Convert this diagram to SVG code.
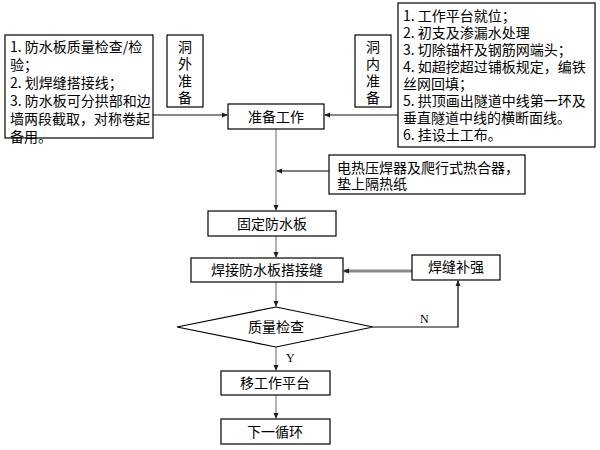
<svg xmlns="http://www.w3.org/2000/svg" width="600" height="450" viewBox="0 0 600 450">
<defs>
<marker id="ah" markerWidth="6" markerHeight="6" refX="5" refY="3" orient="auto" markerUnits="userSpaceOnUse">
<path d="M0,0.5 L6,3 L0,5.5 Z" fill="#222"/>
</marker>
<style>
.box{fill:#fff;stroke:#000;stroke-width:1.2}
.t{font-family:"Noto Sans CJK SC","Noto Sans CJK JP",sans-serif;font-size:14px;fill:#000}
.c{text-anchor:middle}
.flow{stroke:#808080;stroke-width:1.2;fill:none}
.thick{stroke:#888;stroke-width:2;fill:none}
.blk{stroke:#000;stroke-width:1.2;fill:none}
.yn{font-family:"Liberation Serif",serif;font-size:12px;fill:#000}
</style>
</defs>
<rect width="600" height="450" fill="#fff"/>
<g id="connectors">
<line class="thick" x1="153" y1="115" x2="227" y2="115" marker-end="url(#ah)"/>
<line class="thick" x1="398" y1="115" x2="325" y2="115" marker-end="url(#ah)"/>
<line class="flow" x1="276" y1="129" x2="276" y2="210" marker-end="url(#ah)"/>
<line class="blk" x1="329" y1="171" x2="277" y2="171" marker-end="url(#ah)"/>
<line class="flow" x1="276" y1="236" x2="276" y2="257" marker-end="url(#ah)"/>
<line class="flow" x1="276" y1="282" x2="276" y2="306" marker-end="url(#ah)"/>
<line style="stroke:#888;stroke-width:3;fill:none" x1="412" y1="271" x2="344" y2="271" marker-end="url(#ah)"/>
<polyline class="blk" points="373,327 458,327 458,281" marker-end="url(#ah)"/>
<text class="yn" x="420" y="323">N</text>
<line class="flow" x1="276" y1="347" x2="276" y2="370" marker-end="url(#ah)"/>
<text class="yn" x="286" y="362">Y</text>
<line class="flow" x1="276" y1="395" x2="276" y2="418" marker-end="url(#ah)"/>
</g>
<g id="outside-list">
<rect class="box" x="5" y="35" width="148" height="103"/>
<text class="t" x="10" y="52"><tspan x="10" y="52">1. 防水板质量检查/检</tspan><tspan x="10" y="70">验；</tspan><tspan x="10" y="88">2. 划焊缝搭接线；</tspan><tspan x="10" y="106">3. 防水板可分拱部和边</tspan><tspan x="10" y="124">墙两段截取，对称卷起</tspan><tspan x="10" y="142">备用。</tspan></text>
</g>
<g id="outside-prep">
<rect class="box" x="167" y="35" width="36" height="72"/>
<text class="t c" x="185" y="52"><tspan x="185" y="52">洞</tspan><tspan x="185" y="69">外</tspan><tspan x="185" y="86">准</tspan><tspan x="185" y="103">备</tspan></text>
</g>
<g id="inside-prep">
<rect class="box" x="355" y="35" width="36" height="72"/>
<text class="t c" x="373" y="52"><tspan x="373" y="52">洞</tspan><tspan x="373" y="69">内</tspan><tspan x="373" y="86">准</tspan><tspan x="373" y="103">备</tspan></text>
</g>
<g id="inside-list">
<rect class="box" x="398" y="3" width="197" height="144"/>
<text class="t" x="403" y="21"><tspan x="403" y="21">1. 工作平台就位；</tspan><tspan x="403" y="38">2. 初支及渗漏水处理</tspan><tspan x="403" y="55">3. 切除锚杆及钢筋网端头；</tspan><tspan x="403" y="72">4. 如超挖超过铺板规定，编铁</tspan><tspan x="403" y="89">丝网回填；</tspan><tspan x="403" y="106">5. 拱顶画出隧道中线第一环及</tspan><tspan x="403" y="123">垂直隧道中线的横断面线。</tspan><tspan x="403" y="140">6. 挂设土工布。</tspan></text>
</g>
<g id="prep-work">
<rect class="box" x="228" y="104" width="96" height="25"/>
<text class="t c" x="276" y="122">准备工作</text>
</g>
<g id="heater">
<rect class="box" x="329" y="155" width="196" height="39"/>
<text class="t" x="337" y="173"><tspan x="337" y="173">电热压焊器及爬行式热合器，</tspan><tspan x="337" y="189">垫上隔热纸</tspan></text>
</g>
<g id="fix">
<rect class="box" x="208" y="211" width="128" height="25"/>
<text class="t c" x="272" y="229">固定防水板</text>
</g>
<g id="weld">
<rect class="box" x="191" y="258" width="152" height="24"/>
<text class="t c" x="267" y="275">焊接防水板搭接缝</text>
</g>
<g id="reinforce">
<rect class="box" x="412" y="255" width="88" height="25"/>
<text class="t c" x="456" y="272">焊缝补强</text>
</g>
<g id="check">
<polygon class="box" points="177,327 276,307 373,327 276,347"/>
<text class="t c" x="276" y="332">质量检查</text>
</g>
<g id="move">
<rect class="box" x="221" y="371" width="109" height="24"/>
<text class="t c" x="275" y="388">移工作平台</text>
</g>
<g id="next">
<rect class="box" x="221" y="419" width="109" height="25"/>
<text class="t c" x="275" y="437">下一循环</text>
</g>
</svg>
